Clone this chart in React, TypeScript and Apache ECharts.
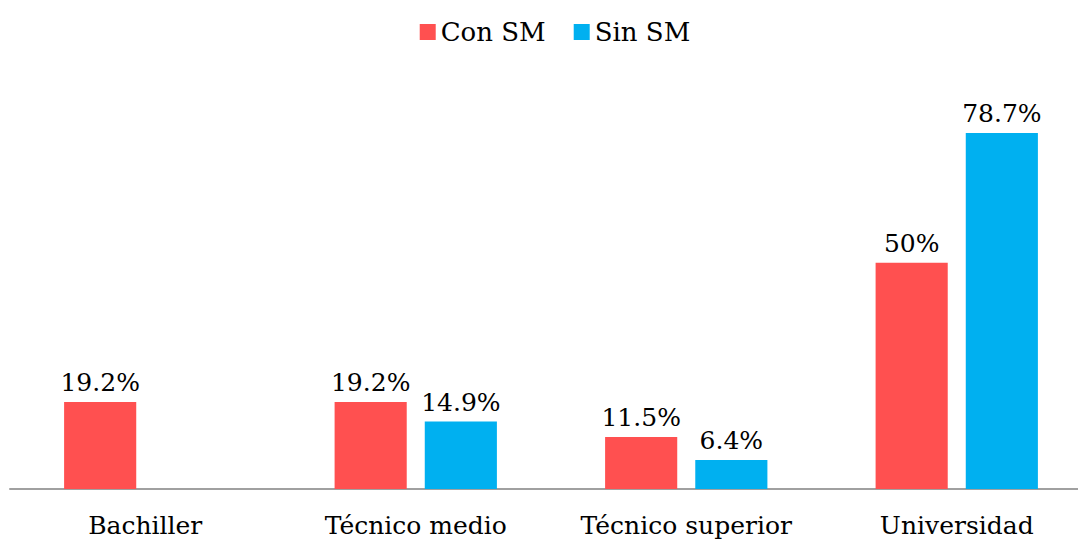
import React, { useEffect, useRef } from "react";
import * as echarts from "echarts";

const categories = ["Bachiller", "Técnico medio", "Técnico superior", "Universidad"];
const conSM: (number | string)[] = [19.2, 19.2, 11.5, 50];
const sinSM: (number | string)[] = ["-", 14.9, 6.4, 78.7];
const seriesNames = ["Con SM", "Sin SM"];
const colors = ["#FF5050", "#00B0F0"];

const FONT = "DejaVu Serif";

export default function App() {
  const ref = useRef<HTMLDivElement>(null);
  useEffect(() => {
    if (!ref.current) return;
    const chart = echarts.init(ref.current, null, { renderer: "svg" });
    const label = {
      show: true,
      position: "top" as const,
      distance: 7,
      color: "#000",
      fontFamily: FONT,
      fontSize: 25,
      formatter: (p: any) => `${p.value}%`,
    };
    chart.setOption({
      animation: false,
      textStyle: { fontFamily: FONT },
      legend: {
        top: 14,
        left: "center",
        itemWidth: 16,
        itemHeight: 16,
        itemGap: 28,
        icon: "rect",
        textStyle: { fontFamily: FONT, fontSize: 26, color: "#000" },
        data: seriesNames,
      },
      grid: { left: 10, right: 18, top: 127, bottom: 53, containLabel: false },
      xAxis: {
        type: "category",
        data: categories,
        axisLine: { lineStyle: { color: "#A0A0A0", width: 2 } },
        axisTick: { show: false },
        axisLabel: {
          color: "#000",
          fontFamily: FONT,
          fontSize: 25,
          margin: 24,
          interval: 0,
          hideOverlap: false,
        },
      },
      yAxis: {
        type: "value",
        min: 0,
        max: 80,
        show: false,
        splitLine: { show: false },
      },
      series: [
        {
          name: seriesNames[0],
          type: "bar",
          data: conSM,
          itemStyle: { color: colors[0] },
          barGap: "25%",
          barCategoryGap: "40%",
          label,
        },
        {
          name: seriesNames[1],
          type: "bar",
          data: sinSM,
          itemStyle: { color: colors[1] },
          barGap: "25%",
          barCategoryGap: "40%",
          label,
        },
      ],
    });
    return () => chart.dispose();
  }, []);
  return (
    <div
      style={{ position: "fixed", left: 0, top: 0, width: 1078, height: 542, overflow: "hidden", background: "#fff" }}
    >
      <div ref={ref} style={{ width: 1110, height: 542 }} />
    </div>
  );
}
